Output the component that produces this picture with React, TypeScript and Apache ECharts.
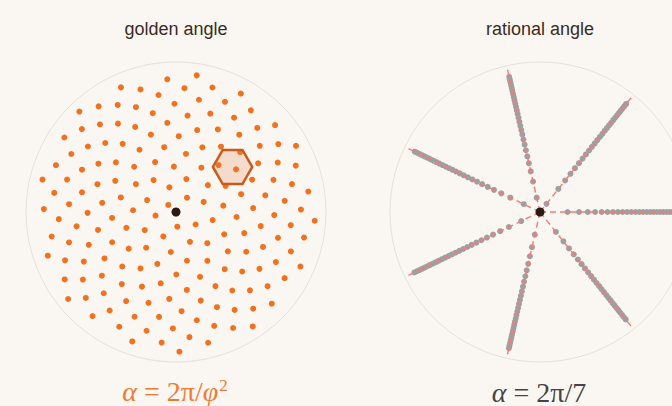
import React, { useEffect, useRef } from "react";
import * as echarts from "echarts";

// ---- data (parameters of the two phyllotaxis patterns) ----
const pointCount = 180; // seeds 1..180 (seed 0 is the black centre dot)
const goldenAngleDeg = 137.50776; // 360 / φ²
const rationalAngleDeg = 360 / 7; // 2π / 7
const seedIndices: number[] = Array.from({ length: pointCount }, (_, k) => k + 1);
const spokeIndices: number[] = [0, 1, 2, 3, 4, 5, 6];
const spokeLength = 14.08; // radius units
const radiusMax = 14.4; // radius units at the boundary circle
const hexCenter = { r: 6.94, angle: 38.5 };
const hexRadius = 1.89;
const titles = ["golden angle", "rational angle"];

const BG = "#faf7f3";
const ORANGE = "#f1711f";

function seedData(angleDeg: number) {
  return seedIndices.map((i) => [Math.sqrt(i), (i * angleDeg) % 360]);
}

function toPolar(x: number, y: number) {
  const r = Math.sqrt(x * x + y * y);
  let a = (Math.atan2(y, x) * 180) / Math.PI;
  if (a < 0) a += 360;
  return [r, a];
}

function formulaRich(color: string) {
  const base = { fill: color, fontFamily: "'Liberation Serif', 'DejaVu Serif', serif", fontSize: 28 };
  return {
    it: { ...base, fontStyle: "italic" },
    up: { ...base },
    sup: { ...base, fontSize: 17, verticalAlign: "top", padding: [0, 0, 12, 1] },
  };
}

export default function App() {
  const ref = useRef<HTMLDivElement>(null);
  useEffect(() => {
    if (!ref.current) return;
    const chart = echarts.init(ref.current, null, { renderer: "svg" });
    const hidden = {
      axisLine: { show: false },
      axisTick: { show: false },
      axisLabel: { show: false },
      splitLine: { show: false },
    };
    const angleAxis = [0, 1].map((p) => ({
      polarIndex: p,
      type: "value",
      min: 0,
      max: 360,
      startAngle: 0,
      clockwise: false,
      axisLine: { show: true, lineStyle: { color: "#e4e0dc", width: 1 } },
      axisTick: { show: false },
      axisLabel: { show: false },
      splitLine: { show: false },
    }));
    const radiusAxis = [0, 1].map((p) => ({
      polarIndex: p,
      type: "value",
      min: 0,
      max: radiusMax,
      ...hidden,
    }));

    const spokeSeries = spokeIndices.map((k) => ({
      type: "line",
      coordinateSystem: "polar",
      polarIndex: 1,
      data: [
        [0, k * rationalAngleDeg],
        [spokeLength, k * rationalAngleDeg],
      ],
      symbol: "none",
      silent: true,
      z: 3,
      lineStyle: { color: "#ff7676", width: 1.4, type: [6, 4] },
    }));

    const titleStyle = {
      fill: "#3b2b24",
      font: "18px 'Liberation Sans', Arial, sans-serif",
      textAlign: "center",
      textVerticalAlign: "middle",
    };

    const option: any = {
      animation: false,
      backgroundColor: BG,
      polar: [
        { center: [176, 212], radius: 150 },
        { center: [540, 212], radius: 150 },
      ],
      angleAxis,
      radiusAxis,
      graphic: [
        { type: "text", x: 176, y: 29, style: { ...titleStyle, text: titles[0] } },
        { type: "text", x: 540, y: 29, style: { ...titleStyle, text: titles[1] } },
        {
          type: "text",
          x: 175,
          y: 406,
          style: {
            text: "{it|α}{up| = 2π/}{it|φ}{sup|2}",
            rich: formulaRich("#f07a30"),
            textAlign: "center",
            textVerticalAlign: "bottom",
          },
        },
        {
          type: "text",
          x: 539,
          y: 406,
          style: {
            text: "{it|α}{up| = 2π/7}",
            rich: formulaRich("#444444"),
            textAlign: "center",
            textVerticalAlign: "bottom",
          },
        },
      ],
      series: [
        {
          type: "scatter",
          coordinateSystem: "polar",
          polarIndex: 0,
          data: seedData(goldenAngleDeg),
          symbolSize: 6,
          itemStyle: { color: ORANGE, opacity: 1 },
          z: 2,
        },
        {
          type: "custom",
          coordinateSystem: "polar",
          polarIndex: 0,
          z: 4,
          data: [[hexCenter.r, hexCenter.angle]],
          renderItem: (params: any, api: any) => {
            const r = api.value(0);
            const a = (api.value(1) * Math.PI) / 180;
            const cx = r * Math.cos(a);
            const cy = r * Math.sin(a);
            const pts: number[][] = [];
            for (let k = 0; k < 6; k++) {
              const t = (k * 60 * Math.PI) / 180;
              const p = toPolar(cx + hexRadius * Math.cos(t), cy + hexRadius * Math.sin(t));
              pts.push(api.coord(p));
            }
            return {
              type: "polygon",
              shape: { points: pts },
              style: {
                fill: "rgba(226,122,62,0.22)",
                stroke: "#c95a1c",
                lineWidth: 2.5,
                lineJoin: "miter",
              },
            };
          },
        },
        {
          type: "scatter",
          coordinateSystem: "polar",
          polarIndex: 0,
          data: [[0, 0]],
          symbolSize: 9,
          itemStyle: { color: "#2a1a14", opacity: 1 },
          z: 5,
        },
        {
          type: "scatter",
          coordinateSystem: "polar",
          polarIndex: 1,
          data: seedData(rationalAngleDeg),
          symbolSize: 6,
          itemStyle: { color: "#a09f9f", opacity: 1 },
          z: 2,
        },
        ...spokeSeries,
        {
          type: "scatter",
          coordinateSystem: "polar",
          polarIndex: 1,
          data: [[0, 0]],
          symbolSize: 9,
          itemStyle: { color: "#2a1a14", opacity: 1 },
          z: 5,
        },
      ],
    };
    chart.setOption(option);
    return () => chart.dispose();
  }, []);
  return (
    <div
      ref={ref}
      style={{ width: 672, height: 406, position: "absolute", left: 0, top: 0, background: BG }}
    />
  );
}
